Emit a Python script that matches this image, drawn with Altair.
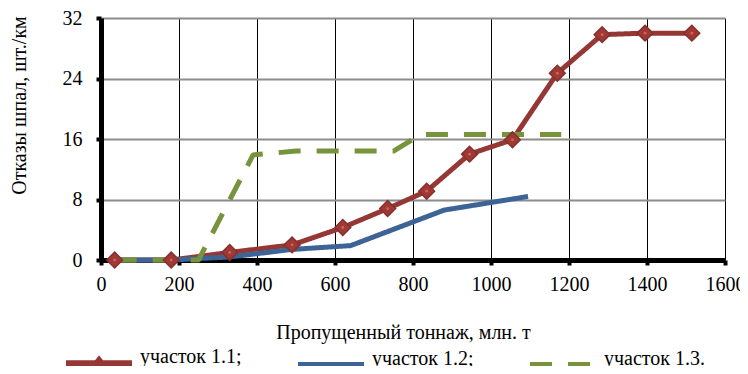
import altair as alt
import pandas as pd

# ---- data ----
names = ["участок 1.1;", "участок 1.2;", "участок 1.3."]
colors = ["#953735", "#3C6496", "#77933C"]

s1_x = [35, 180, 330, 490, 620, 735, 835, 945, 1055, 1170, 1285, 1395, 1515]
s1_y = [0, 0, 1.0, 2.0, 4.3, 6.8, 9.1, 14.0, 15.9, 24.7, 29.8, 30.0, 30.0]

s2_x = [35, 180, 330, 490, 640, 880, 1095]
s2_y = [0, 0, 0.4, 1.4, 1.9, 6.6, 8.4]

s3_x = [35, 250, 390, 500, 750, 820, 1180]
s3_y = [0, 0, 13.9, 14.4, 14.4, 16.6, 16.6]

x_ticks = [0, 200, 400, 600, 800, 1000, 1200, 1400, 1600]
y_ticks = [0, 8, 16, 24, 32]

rows = []
for name, xs, ys in zip(names, [s1_x, s2_x, s3_x], [s1_y, s2_y, s3_y]):
    for i, (xv, yv) in enumerate(zip(xs, ys)):
        rows.append({"x": xv, "y": yv, "series": name, "i": i})
df = pd.DataFrame(rows)

FONT = "Liberation Serif"
DIAMOND_PATH = "M-1,0L1,0M0,-0.1L0.08,0L0,0.1L-0.08,0Z"
LINE_PATH = "M-1,0L1,0"

legend = alt.Legend(
    orient="none", legendX=-38, legendY=309, direction="horizontal",
    columns=3, gridAlign="all", columnPadding=44, title=None, padding=0,
    symbolSize=4356, symbolStrokeWidth=6, symbolOpacity=1,
    labelFont=FONT, labelFontSize=20, labelColor="black", labelOffset=5,
    labelBaseline="alphabetic", labelLimit=300,
)

color_scale = alt.Scale(domain=names, range=colors)
dash_scale = alt.Scale(domain=names, range=[[1, 0], [1, 0], [22, 16]])
shape_scale = alt.Scale(domain=names, range=[DIAMOND_PATH, LINE_PATH, LINE_PATH])

x_enc = alt.X("x:Q", scale=alt.Scale(domain=[0, 1600], nice=False, zero=False),
              axis=alt.Axis(values=x_ticks, format="d", title="Пропущенный тоннаж, млн. т",
                            grid=True, gridColor="black", gridWidth=1,
                            domainColor="black", domainWidth=5,
                            tickColor="black", tickWidth=4, tickSize=5,
                            labelFont=FONT, labelFontSize=20, labelColor="black",
                            labelPadding=9, labelFlush=False, labelOverlap=False,
                            titleFont=FONT, titleFontSize=20, titleFontWeight="normal",
                            titleColor="black", titleX=302, titleY=72,
                            titleBaseline="middle", titleAlign="center"))
y_enc = alt.Y("y:Q", scale=alt.Scale(domain=[0, 32], nice=False),
              axis=alt.Axis(values=y_ticks, format="d", title="Отказы шпал, шт./км",
                            grid=True, gridColor="#8c8c8c", gridWidth=2,
                            domainColor="black", domainWidth=5,
                            tickColor="black", tickWidth=4, tickSize=5,
                            labelFont=FONT, labelFontSize=20, labelColor="black",
                            labelPadding=14, labelFlush=False, labelOverlap=False,
                            titleFont=FONT, titleFontSize=20, titleFontWeight="normal",
                            titleColor="black", titleX=-82, titleY=87,
                            titleBaseline="middle", titleAlign="center", titleAngle=-90))

lines = alt.Chart(df).mark_line(strokeWidth=5, strokeJoin="round").encode(
    x=x_enc, y=y_enc,
    color=alt.Color("series:N", scale=color_scale, legend=legend),
    strokeDash=alt.StrokeDash("series:N", scale=dash_scale, legend=legend),
    order="i:Q",
)

# empty layer that only carries the legend symbols (line + diamond)
legend_layer = alt.Chart(df).transform_filter("false").mark_point(filled=False, opacity=1).encode(
    x="x:Q", y="y:Q",
    color=alt.Color("series:N", scale=color_scale, legend=legend),
    shape=alt.Shape("series:N", scale=shape_scale, legend=legend),
    strokeDash=alt.StrokeDash("series:N", scale=dash_scale, legend=legend),
)

s1 = df[df["series"] == names[0]]
markers = alt.Chart(s1).mark_point(shape="diamond", filled=True, size=250,
                                   color="#9E3936", stroke="#86302e", strokeWidth=1.5,
                                   opacity=1).encode(x="x:Q", y="y:Q")
dots = alt.Chart(s1).mark_point(shape="circle", filled=True, size=8,
                                color="#D6605C", opacity=1).encode(x="x:Q", y="y:Q")

chart = alt.layer(lines, legend_layer, markers, dots).properties(
    width=624, height=242,
    autosize=alt.AutoSizeParams(type="none"),
    padding={"left": 93, "top": 10, "right": 15, "bottom": 106},
    background="white",
).configure_view(stroke=None)

chart.save("out.html", embed_options={"renderer": "svg", "actions": False})
